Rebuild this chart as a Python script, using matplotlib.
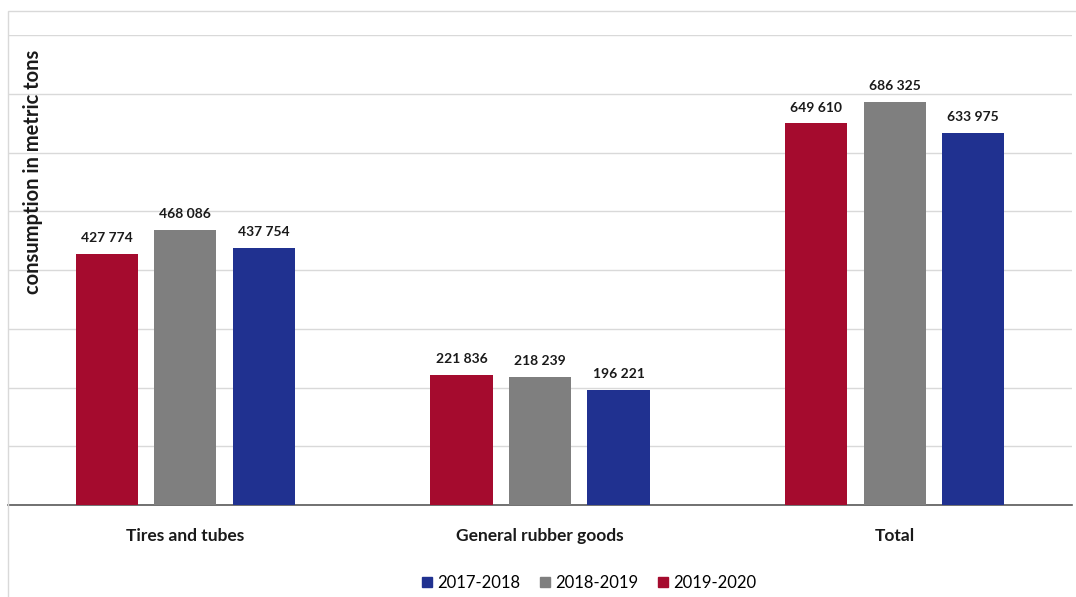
import numpy as np
import matplotlib.pyplot as plt
from matplotlib.patches import Patch, Rectangle

plt.rcParams['font.family'] = ['Lato', 'DejaVu Sans']

categories = ['Tires and tubes', 'General rubber goods', 'Total']
series = ['2019-2020', '2018-2019', '2017-2018']
values_1920 = [427774, 221836, 649610]
values_1819 = [468086, 218239, 686325]
values_1718 = [437754, 196221, 633975]
colors = {'2019-2020': '#A50B2E', '2018-2019': '#7F7F7F', '2017-2018': '#203190'}

data = {'2019-2020': values_1920, '2018-2019': values_1819, '2017-2018': values_1718}

fig = plt.figure(figsize=(10.76, 5.97), dpi=100)
ax = fig.add_axes([8 / 1076, 92 / 597, 1064 / 1076, 470 / 597])

# light frame around the chart area
fig.patches.append(Rectangle((8 / 1076, -0.05), 1.1, 1 - 11 / 597 + 0.05,
                             transform=fig.transFigure, fill=False,
                             edgecolor='#D9D9D9', linewidth=1.0))

x = np.arange(len(categories))
width = 0.175
step = 0.2214
for i, s in enumerate(series):
    pos = x + (i - 1) * step
    bars = ax.bar(pos, data[s], width, color=colors[s], zorder=3)
    for b, v in zip(bars, data[s]):
        ax.annotate(f'{v:,}'.replace(',', ' '), (b.get_x() + b.get_width() / 2, v),
                    xytext=(0, 7), textcoords='offset points', ha='center', va='bottom',
                    fontsize=10, fontweight='bold', color='#1a1a1a')

ax.set_xlim(-0.5, 2.5)
ax.set_ylim(0, 800000)
ax.set_yticks(np.arange(0, 800001, 100000))
ax.yaxis.grid(True, color='#D9D9D9', linewidth=1.0, zorder=0)
ax.tick_params(axis='y', left=False, labelleft=False)
ax.tick_params(axis='x', bottom=False, pad=13)
ax.set_xticks(x)
ax.set_xticklabels(categories, fontsize=12.5, fontweight='bold', color='#1a1a1a')
for sp in ['left', 'right', 'top']:
    ax.spines[sp].set_visible(False)
ax.spines['bottom'].set_color('#595959')
ax.spines['bottom'].set_linewidth(1.2)

fig.text(33 / 1076, 1 - 172 / 597, 'consumption in metric tons', rotation=90,
         ha='center', va='center', fontsize=14.5, fontweight='bold', color='#1a1a1a')

handles = [Patch(color=colors[s]) for s in ['2017-2018', '2018-2019', '2019-2020']]
fig.legend(handles, ['2017-2018', '2018-2019', '2019-2020'], loc='center',
           bbox_to_anchor=(589 / 1076, 1 - 583 / 597), ncol=3, frameon=False,
           fontsize=12, handlelength=0.6, handleheight=0.6, handletextpad=0.3,
           columnspacing=1.2)

fig.savefig('out.png', dpi=100)
